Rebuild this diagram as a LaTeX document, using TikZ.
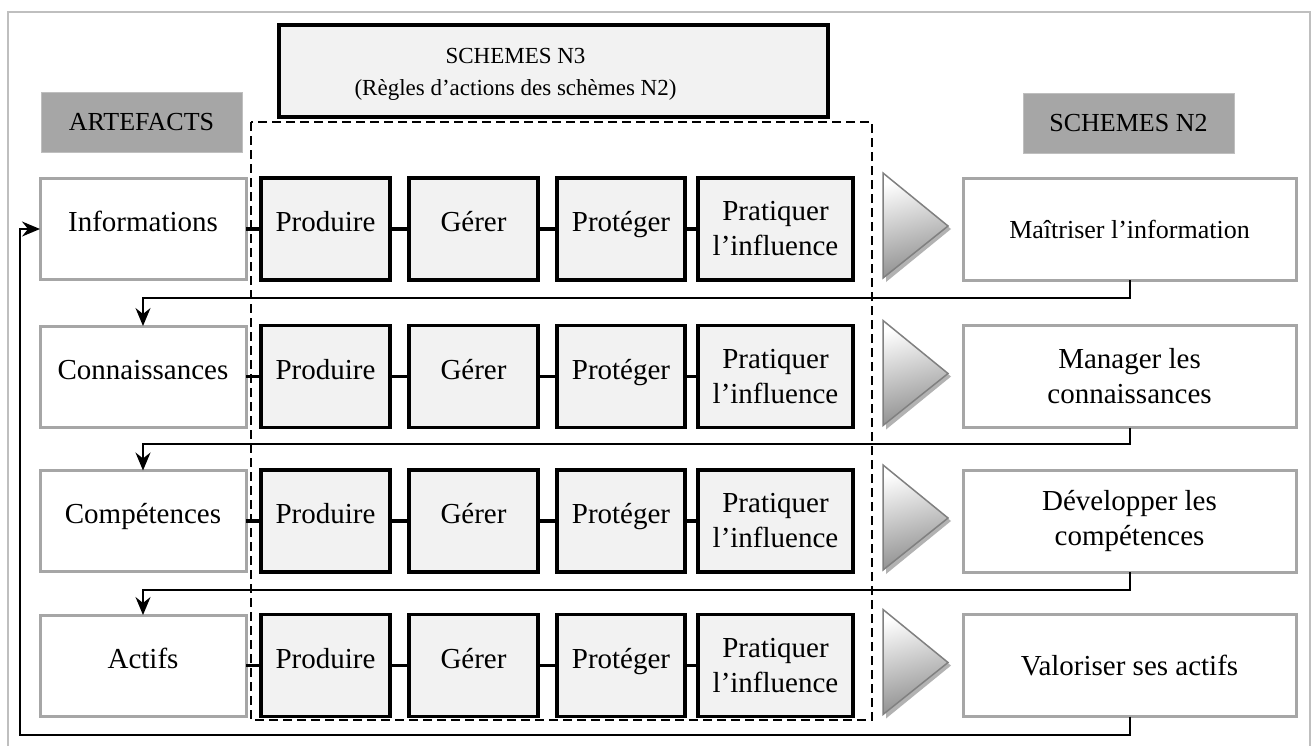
\documentclass[tikz,border=0pt]{standalone}
\usepackage{fontspec}
\setmainfont{Liberation Serif}
\usetikzlibrary{arrows.meta,calc}
\definecolor{boxgray}{HTML}{A6A6A6}
\definecolor{lightfill}{HTML}{F2F2F2}
\definecolor{frame}{HTML}{BFBFBF}
\definecolor{trigray}{HTML}{808080}
\begin{document}
\begin{tikzpicture}[x=1pt,y=-1pt,
  artbox/.style={draw=boxgray, line width=3pt, fill=white, minimum width=206pt, minimum height=101pt, inner sep=0pt, outer sep=0pt, font=\fontsize{29}{35}\selectfont, text height=20pt, text depth=15pt},
  actbox/.style={draw=black, line width=3.5pt, fill=lightfill, minimum height=102pt, inner sep=0pt, outer sep=0pt, font=\fontsize{29}{35}\selectfont, align=center},
  single/.style={text height=20pt, text depth=15pt},
  nbox/.style={draw=boxgray, line width=3pt, fill=white, minimum width=333pt, minimum height=102pt, inner sep=0pt, outer sep=0pt, align=center, font=\fontsize{29}{35}\selectfont},
  tag/.style={fill=boxgray, draw=frame, line width=1pt, minimum height=60pt, inner sep=0pt, outer sep=0pt, font=\fontsize{26}{30}\selectfont},
  link/.style={line width=3.5pt},
  flow/.style={line width=2pt, -{Stealth[length=18pt,width=15pt,inset=6pt]}},
  tri/.style={draw=trigray, line width=1.5pt, top color=white, bottom color=trigray!90, shading angle=15},
  trishadow/.style={fill=black!30, draw=none}
]
\useasboundingbox (0,0) rectangle (1311,745);
\fill[white] (0,0) rectangle (1311,745);
% outer frame
\draw[frame, line width=1.5pt] (8,760) -- (8,12) -- (1310,12) -- (1310,760);

% top box
\node[actbox, minimum width=549pt, minimum height=92pt,
  label={[font=\fontsize{23}{32}\selectfont, align=center, xshift=-38pt, yshift=-3pt]center:SCHEMES N3\\(Règles d’actions des schèmes N2)}] (n3) at (553.5,71) {};

% dashed frame
\draw[line width=2pt, dash pattern=on 9pt off 5pt] (251,122) rectangle (872,720);

% headers
\node[tag, minimum width=201pt] (art) at (141.5,122.5) {ARTEFACTS};
\node[tag, minimum width=211pt] (sch) at (1128.5,123.5) {SCHEMES N2};

% rows
\foreach \i/\y/\art/\res/\rf in {
  1/229/Informations/{Maîtriser l’information}/26,
  2/376.5/Connaissances/{Manager les\\connaissances}/29,
  3/521/Compétences/{Développer les\\compétences}/29,
  4/665.5/Actifs/{Valoriser ses actifs}/29}{
  \node[artbox] (a\i) at (143,\y) {\art};
  \node[actbox, single, minimum width=129pt] (p\i) at (325.5,\y) {Produire};
  \node[actbox, single, minimum width=129pt] (g\i) at (473.5,\y) {Gérer};
  \node[actbox, single, minimum width=128pt] (t\i) at (621,\y) {Protéger};
  \node[actbox, minimum width=155pt] (q\i) at (775.5,\y) {Pratiquer\\l’influence};
  \node[nbox, font=\fontsize{\rf}{35}\selectfont] (s\i) at (1129.5,\y) {\res};
  \draw[link] (a\i.east) -- (p\i.west);
  \draw[link] (p\i.east) -- (g\i.west);
  \draw[link] (g\i.east) -- (t\i.west);
  \draw[link] (t\i.east) -- (q\i.west);
  % triangle
  \fill[trishadow] (886,\y-52) -- (951,\y) -- (886,\y+53) -- cycle;
  \draw[tri] (883,\y-56) -- (948,\y-3) -- (883,\y+49) -- cycle;
}

% flow connectors
\draw[flow] (s1.south) -- ++(0,18) -| (a2.north);
\draw[flow] (s2.south) -- ++(0,16) -| (a3.north);
\draw[flow] (s3.south) -- ++(0,18) -| (a4.north);
\coordinate (fb) at (20,229);
\draw[flow] (s4.south) -- ++(0,18) -| (fb) -- (a1.west);
\end{tikzpicture}
\end{document}
